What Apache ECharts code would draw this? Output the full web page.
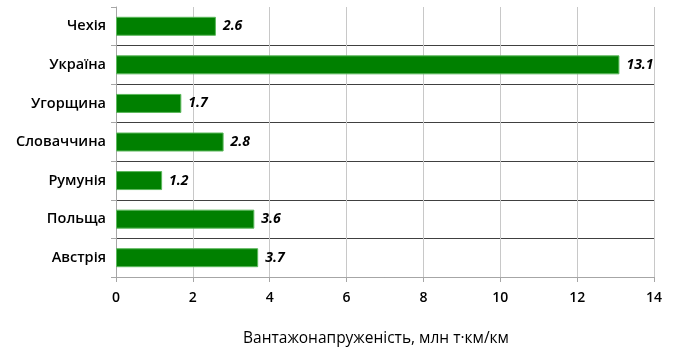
<!DOCTYPE html>
<html><head><meta charset="utf-8">
<script src="https://cdn.jsdelivr.net/npm/echarts@6/dist/echarts.min.js"></script>
<style>html,body{margin:0;padding:0;background:#fff}#c{width:674px;height:360px}</style>
</head><body><div id="c"></div>
<script>
const categories = ['Чехія','Україна','Угорщина','Словаччина','Румунія','Польща','Австрія'];
const values = [2.6, 13.1, 1.7, 2.8, 1.2, 3.6, 3.7];
const axisTitle = 'Вантажонапруженість, млн т·км/км';
const font = 'Open Sans';
const chart = echarts.init(document.getElementById('c'));
chart.setOption({
  animation: false,
  backgroundColor: '#fff',
  grid: {left: 116, right: 20, top: 7, bottom: 83},
  xAxis: {
    type: 'value', min: 0, max: 14, interval: 2,
    axisLine: {show: true, lineStyle: {color: '#a6a6a6'}},
    axisTick: {show: true, length: 5, lineStyle: {color: '#a6a6a6'}},
    axisLabel: {color: '#000', fontFamily: font, fontSize: 14, fontWeight: 600, margin: 14},
    splitLine: {show: true, lineStyle: {color: '#c8c8c8', width: 1}},
    name: axisTitle, nameLocation: 'middle', nameGap: 54,
    nameTextStyle: {color: '#000', fontFamily: font, fontSize: 15.5, padding: [0, 18, 0, 0]}
  },
  yAxis: {
    type: 'category', data: categories, inverse: true,
    axisLine: {show: true, lineStyle: {color: '#a6a6a6'}},
    axisTick: {show: true, length: 5, lineStyle: {color: '#a6a6a6'}},
    axisLabel: {color: '#000', fontFamily: font, fontSize: 14.5, fontWeight: 600, margin: 10},
    splitLine: {show: true, interval: function(i){ return i !== 0; }, lineStyle: {color: '#404040', width: 1}}
  },
  series: [{
    type: 'bar', data: values, barWidth: 19,
    itemStyle: {color: '#008000', borderColor: '#5cb85c', borderWidth: 1},
    label: {show: true, position: 'right', distance: 7, color: '#000',
      fontFamily: font, fontSize: 14, fontWeight: 'bold', fontStyle: 'italic',
      formatter: p => p.value.toFixed(1)}
  }]
});
</script></body></html>
